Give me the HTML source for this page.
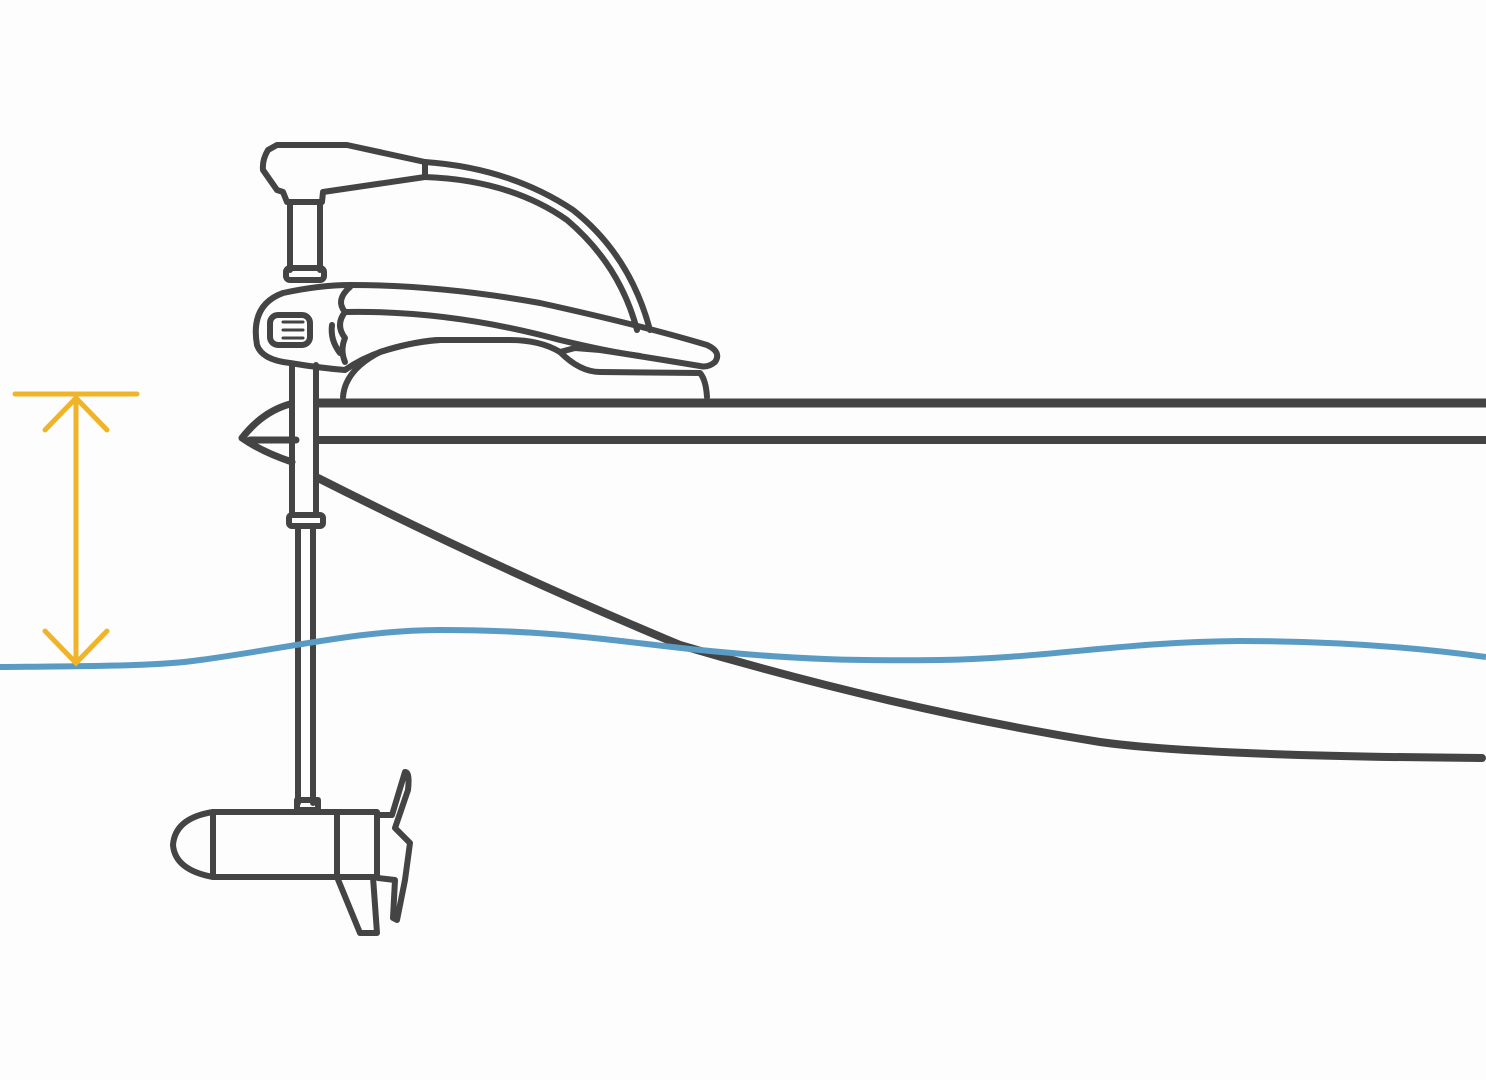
<!DOCTYPE html>
<html><head><style>html,body{margin:0;padding:0;background:#fdfdfd}svg{display:block}</style></head>
<body>
<svg width="1486" height="1080" viewBox="0 0 1486 1080" xmlns="http://www.w3.org/2000/svg">
<rect width="1486" height="1080" fill="#fdfdfd"/>
<g fill="none" stroke="#444" stroke-width="6" stroke-linejoin="round" stroke-linecap="round">
<line x1="318" y1="403" x2="1486" y2="403" stroke-width="9"/>
<line x1="318" y1="440" x2="1486" y2="440" stroke-width="8"/>
<path d="M290 404 Q262 412 242 438 Q262 452 292 462" stroke-width="7"/>
<line x1="250" y1="440" x2="296" y2="440" stroke-width="7"/>
<path d="M318 478 Q500 570 680 645 Q900 710 1100 742 Q1200 756 1482 758" stroke-width="8"/>
<path d="M290 202 V270 M320 202 V270"/>
<rect x="286" y="268" width="38" height="12" rx="4"/>
<path d="M292 365 V515 M316 365 V515"/>
<rect x="289" y="515" width="34" height="11" rx="3"/>
<path d="M298 526 V803 M313 526 V803"/>
<path d="M277 190 L263 170 Q262 160 268 150 L277 145 L330 145 L347 145 L425 162 L425 177 L323 192 L322 202 L287 202 L283 192 Z"/>
<path d="M425 162 Q510 168 573 210 Q630 255 650 330"/>
<path d="M425 177 Q510 180 567 220 Q620 265 637 330"/>
<path d="M257 345 Q250 305 283 293 Q320 285 350 285 Q440 285 540 303 Q640 325 707 345 Q722 352 715 362 Q708 368 700 366 Q640 356 600 350 L575 348 L560 352 Q540 340 510 340 L440 340 Q380 345 345 370 Q320 368 290 363 Q262 360 257 345 Z"/>
<path d="M350 287 Q335 300 345 312 Q335 325 345 338 Q340 350 345 362"/>
<path d="M345 312 Q450 310 560 340 Q610 352 640 356"/>
<path d="M343 397 Q345 370 380 352 Q420 340 440 340"/>
<path d="M560 352 Q580 372 600 372 L700 373 Q706 380 707 397"/>
<path d="M340 353 Q330 340 332 325"/>
<rect x="270" y="315" width="40" height="30" rx="8"/>
<path d="M283 322 H303 M283 330 H303 M283 338 H303" stroke-width="3"/>
<rect x="297" y="800" width="21" height="10"/>
<path d="M213 812 L377 812 L377 877 L213 877 Q175 870 173 845 Q175 818 213 812 Z"/>
<path d="M213 812 V877 M337 812 V877"/>
<path d="M337 877 L360 933 L377 933 L373 877"/>
<path d="M377 815 L392 815 L405 772 Q410 772 408 790 L395 828 L410 843 L405 880 L397 920 L393 918 L395 880 L378 878"/>
</g>
<path d="M0 667 C100 666 160 666 200 660 C290 648 360 630 440 630 C560 630 620 642 700 650 C800 660 860 661 940 660 C1050 658 1120 642 1240 641 C1340 641 1420 648 1486 657" fill="none" stroke="#5a9bc4" stroke-width="6"/>
<g fill="none" stroke="#f0b429" stroke-width="5" stroke-linecap="round">
<line x1="15" y1="394" x2="137" y2="394"/>
<line x1="76" y1="396" x2="76" y2="663"/>
<path d="M45 430 L76 398 L107 430"/>
<path d="M45 631 L76 663 L107 631"/>
</g>
</svg>
</body></html>
